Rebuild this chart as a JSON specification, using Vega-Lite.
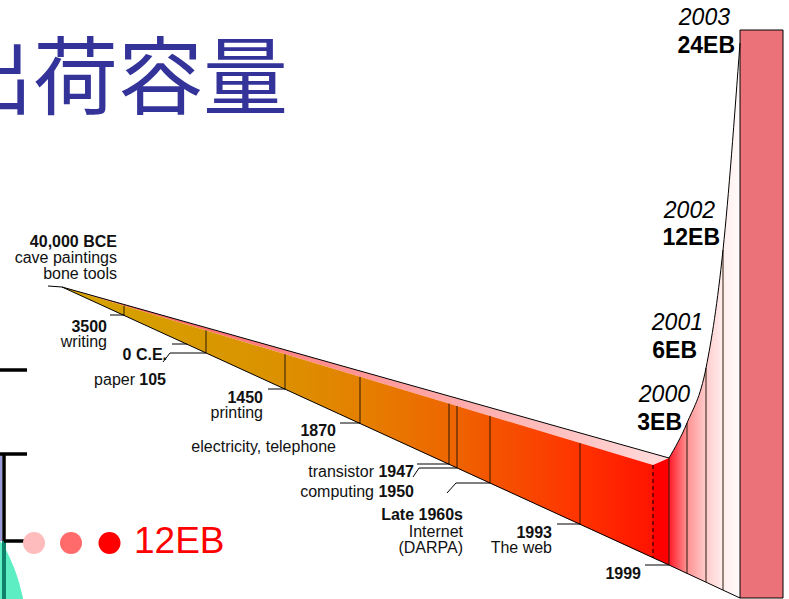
{
  "$schema": "https://vega.github.io/schema/vega-lite/v6.json",
  "width": 789,
  "height": 599,
  "autosize": {"type": "none"},
  "padding": 0,
  "background": "#ffffff",
  "config": {"view": {"stroke": null}},
  "encoding": {
    "x": {"field": "x", "type": "quantitative", "scale": {"domain": [0, 789], "nice": false, "zero": false}, "axis": null},
    "y": {"field": "y", "type": "quantitative", "scale": {"domain": [0, 599], "reverse": true, "nice": false, "zero": false}, "axis": null}
  },
  "datasets": {
    "title": [{"x": 288, "y": 108, "t": "出荷容量"}],
    "bracket": [
      {"x": 0, "y": 370, "x2": 27, "y2": 370},
      {"x": 0, "y": 454, "x2": 27, "y2": 454},
      {"x": 4, "y": 541, "x2": 27, "y2": 541},
      {"x": 4, "y": 454, "x2": 4, "y2": 541}
    ],
    "bracketEdge": [{"x": 1, "y": 455, "x2": 1, "y2": 541}],
    "bracketStem": [{"x": 4, "y": 541, "x2": 4, "y2": 599}],
    "wave": [
      {"x": 0, "y": 541, "y2": 599},
      {"x": 6, "y": 550, "y2": 599},
      {"x": 12, "y": 563, "y2": 599},
      {"x": 18, "y": 579, "y2": 599},
      {"x": 23, "y": 598, "y2": 599}
    ],
    "dots": [
      {"x": 34, "y": 543, "shade": "faint"},
      {"x": 71, "y": 543, "shade": "medium"},
      {"x": 109.5, "y": 543, "shade": "full"}
    ],
    "headline": [{"x": 134, "y": 553, "t": "12EB"}],
    "topFace": [
      {"x": 62, "y": 287, "y2": 287},
      {"x": 653, "y": 453.5, "y2": 465},
      {"x": 669, "y": 458, "y2": 458}
    ],
    "frontFace": [
      {"x": 62, "y": 287, "y2": 287},
      {"x": 653, "y": 465, "y2": 558},
      {"x": 669, "y": 458, "y2": 565}
    ],
    "growth": [
      {"year": 1999, "x": 669, "y": 458, "y2": 565},
      {"year": 2000, "x": 687, "y": 423, "y2": 573.5},
      {"year": 2001, "x": 706, "y": 368, "y2": 582},
      {"year": 2002, "x": 723, "y": 250, "y2": 590},
      {"year": 2003, "x": 740, "y": 43, "y2": 598}
    ],
    "bar2003": [{"x": 740, "x2": 783, "y": 30, "y2": 598}],
    "dividers": [
      {"x": 124, "y": 305.7, "y2": 315.4},
      {"x": 206, "y": 330.4, "y2": 353},
      {"x": 285, "y": 354.2, "y2": 389.2},
      {"x": 360, "y": 376.8, "y2": 423.6},
      {"x": 449, "y": 403.6, "y2": 464.4},
      {"x": 457, "y": 406, "y2": 468.1},
      {"x": 490, "y": 415.9, "y2": 483.2},
      {"x": 580, "y": 443, "y2": 524.5},
      {"x": 669, "y": 458, "y2": 565},
      {"x": 687, "y": 423, "y2": 573.5},
      {"x": 706, "y": 368, "y2": 582},
      {"x": 723, "y": 250, "y2": 590}
    ],
    "hidden": [{"x": 653, "y": 465, "y2": 558}],
    "edges": [
      {"g": "top", "i": 0, "x": 62, "y": 287},
      {"g": "top", "i": 1, "x": 669, "y": 458},
      {"g": "bottom", "i": 0, "x": 62, "y": 287},
      {"g": "bottom", "i": 1, "x": 669, "y": 565},
      {"g": "bottom", "i": 2, "x": 740, "y": 598}
    ],
    "leaders": [
      {"x": 48, "y": 286, "x2": 62, "y2": 287},
      {"x": 110, "y": 315, "x2": 124, "y2": 315},
      {"x": 172, "y": 344, "x2": 187, "y2": 344},
      {"x": 170, "y": 353, "x2": 206, "y2": 353},
      {"x": 163, "y": 362, "x2": 170, "y2": 353},
      {"x": 268, "y": 389, "x2": 285, "y2": 389},
      {"x": 340, "y": 423, "x2": 360, "y2": 423},
      {"x": 417, "y": 464, "x2": 449, "y2": 464},
      {"x": 419, "y": 468, "x2": 457, "y2": 468},
      {"x": 413, "y": 477, "x2": 419, "y2": 468},
      {"x": 456, "y": 483, "x2": 490, "y2": 483},
      {"x": 447, "y": 493, "x2": 456, "y2": 483},
      {"x": 557, "y": 524, "x2": 580, "y2": 524},
      {"x": 645, "y": 565, "x2": 669, "y2": 565}
    ],
    "eventsBold": [
      {"x": 117, "y": 247, "t": "40,000 BCE"},
      {"x": 107, "y": 332, "t": "3500"},
      {"x": 167, "y": 360, "t": "0 C.E."},
      {"x": 166, "y": 385, "t": "105"},
      {"x": 263, "y": 403, "t": "1450"},
      {"x": 336, "y": 436, "t": "1870"},
      {"x": 414, "y": 477, "t": "1947"},
      {"x": 414, "y": 497, "t": "1950"},
      {"x": 463, "y": 520, "t": "Late 1960s"},
      {"x": 552, "y": 538, "t": "1993"},
      {"x": 641, "y": 579, "t": "1999"}
    ],
    "eventsPlain": [
      {"x": 117, "y": 263, "t": "cave paintings"},
      {"x": 117, "y": 279, "t": "bone tools"},
      {"x": 107, "y": 347, "t": "writing"},
      {"x": 135, "y": 385, "t": "paper"},
      {"x": 263, "y": 418, "t": "printing"},
      {"x": 336, "y": 452, "t": "electricity, telephone"},
      {"x": 374, "y": 477, "t": "transistor"},
      {"x": 374, "y": 497, "t": "computing"},
      {"x": 463, "y": 537, "t": "Internet"},
      {"x": 463, "y": 553, "t": "(DARPA)"},
      {"x": 552, "y": 553, "t": "The web"}
    ],
    "years": [
      {"x": 730, "y": 25, "t": "2003"},
      {"x": 715, "y": 218, "t": "2002"},
      {"x": 703, "y": 330, "t": "2001"},
      {"x": 690, "y": 402, "t": "2000"}
    ],
    "volumes": [
      {"x": 735, "y": 53, "t": "24EB"},
      {"x": 720, "y": 245, "t": "12EB"},
      {"x": 697, "y": 358, "t": "6EB"},
      {"x": 682, "y": 430, "t": "3EB"}
    ]
  },
  "layer": [
    {
      "data": {"name": "wave"},
      "mark": {"type": "area", "interpolate": "monotone", "color": "#5eeec4"},
      "encoding": {"y2": {"field": "y2"}}
    },
    {
      "data": {"name": "bracketEdge"},
      "mark": {"type": "rule", "color": "#9a9ad8", "strokeWidth": 2},
      "encoding": {"x2": {"field": "x2"}, "y2": {"field": "y2"}}
    },
    {
      "data": {"name": "bracketStem"},
      "mark": {"type": "rule", "color": "#0f806a", "strokeWidth": 4},
      "encoding": {"x2": {"field": "x2"}, "y2": {"field": "y2"}}
    },
    {
      "data": {"name": "bracket"},
      "mark": {"type": "rule", "color": "#000000", "strokeWidth": 3.5},
      "encoding": {"x2": {"field": "x2"}, "y2": {"field": "y2"}}
    },
    {
      "data": {"name": "title"},
      "mark": {"type": "text", "font": "Noto Sans CJK JP", "fontSize": 85, "align": "right", "baseline": "alphabetic", "color": "#333399"},
      "encoding": {"text": {"field": "t"}}
    },
    {
      "data": {"name": "dots"},
      "mark": {"type": "point", "shape": "circle", "filled": true, "opacity": 1, "size": 484},
      "encoding": {
        "color": {"field": "shade", "type": "nominal", "legend": null,
          "scale": {"domain": ["faint", "medium", "full"], "range": ["#ffbcbc", "#ff6a6a", "#ff0000"]}}
      }
    },
    {
      "data": {"name": "headline"},
      "mark": {"type": "text", "font": "Liberation Sans", "fontSize": 37, "align": "left", "baseline": "alphabetic", "color": "#ff0000"},
      "encoding": {"text": {"field": "t"}}
    },
    {
      "data": {"name": "topFace"},
      "mark": {"type": "area", "color": {"gradient": "linear", "x1": 0, "y1": 0, "x2": 1, "y2": 0,
        "stops": [
          {"offset": 0, "color": "#cc3333"},
          {"offset": 0.1, "color": "#ff5a5a"},
          {"offset": 0.4, "color": "#ff8a8a"},
          {"offset": 0.65, "color": "#ffaaaa"},
          {"offset": 0.85, "color": "#ffc4c4"},
          {"offset": 1, "color": "#ffdcdc"}
        ]}},
      "encoding": {"y2": {"field": "y2"}}
    },
    {
      "data": {"name": "frontFace"},
      "mark": {"type": "area", "color": {"gradient": "linear", "x1": 0, "y1": 0, "x2": 1, "y2": 0,
        "stops": [
          {"offset": 0, "color": "#d6a400"},
          {"offset": 0.24, "color": "#d89800"},
          {"offset": 0.37, "color": "#dc9000"},
          {"offset": 0.49, "color": "#e48000"},
          {"offset": 0.64, "color": "#ee6600"},
          {"offset": 0.71, "color": "#f45400"},
          {"offset": 0.85, "color": "#ff3400"},
          {"offset": 0.972, "color": "#ff1400"},
          {"offset": 0.975, "color": "#ff0000"},
          {"offset": 1, "color": "#ff0000"}
        ]}},
      "encoding": {"y2": {"field": "y2"}}
    },
    {
      "data": {"name": "growth"},
      "mark": {"type": "area", "interpolate": "monotone", "color": {"gradient": "linear", "x1": 0, "y1": 0, "x2": 1, "y2": 0,
        "stops": [
          {"offset": 0, "color": "#ff1a2a"},
          {"offset": 0.25, "color": "#ff9090"},
          {"offset": 0.52, "color": "#ffcccc"},
          {"offset": 0.76, "color": "#ffeeee"},
          {"offset": 1, "color": "#fffafa"}
        ]}},
      "encoding": {"y2": {"field": "y2"}}
    },
    {
      "data": {"name": "bar2003"},
      "mark": {"type": "rect", "color": "#ec727a", "stroke": "#000000", "strokeWidth": 1},
      "encoding": {"x2": {"field": "x2"}, "y2": {"field": "y2"}}
    },
    {
      "data": {"name": "dividers"},
      "mark": {"type": "rule", "color": "#2a1a0a", "strokeWidth": 1},
      "encoding": {"y2": {"field": "y2"}}
    },
    {
      "data": {"name": "hidden"},
      "mark": {"type": "rule", "color": "#2a0000", "strokeWidth": 1.2, "strokeDash": [4, 3]},
      "encoding": {"y2": {"field": "y2"}}
    },
    {
      "data": {"name": "edges"},
      "mark": {"type": "line", "color": "#000000", "strokeWidth": 1},
      "encoding": {"detail": {"field": "g"}, "order": {"field": "i"}}
    },
    {
      "data": {"name": "growth"},
      "mark": {"type": "line", "interpolate": "monotone", "color": "#000000", "strokeWidth": 1},
      "encoding": {}
    },
    {
      "data": {"name": "leaders"},
      "mark": {"type": "rule", "color": "#000000", "strokeWidth": 1},
      "encoding": {"x2": {"field": "x2"}, "y2": {"field": "y2"}}
    },
    {
      "data": {"name": "eventsBold"},
      "mark": {"type": "text", "font": "Liberation Sans", "fontSize": 16, "fontWeight": "bold", "align": "right", "baseline": "alphabetic", "color": "#111111"},
      "encoding": {"text": {"field": "t"}}
    },
    {
      "data": {"name": "eventsPlain"},
      "mark": {"type": "text", "font": "Liberation Sans", "fontSize": 16, "align": "right", "baseline": "alphabetic", "color": "#111111"},
      "encoding": {"text": {"field": "t"}}
    },
    {
      "data": {"name": "years"},
      "mark": {"type": "text", "font": "Liberation Sans", "fontSize": 23, "fontStyle": "italic", "align": "right", "baseline": "alphabetic", "color": "#000000"},
      "encoding": {"text": {"field": "t"}}
    },
    {
      "data": {"name": "volumes"},
      "mark": {"type": "text", "font": "Liberation Sans", "fontSize": 23, "fontWeight": "bold", "align": "right", "baseline": "alphabetic", "color": "#000000"},
      "encoding": {"text": {"field": "t"}}
    }
  ]
}
